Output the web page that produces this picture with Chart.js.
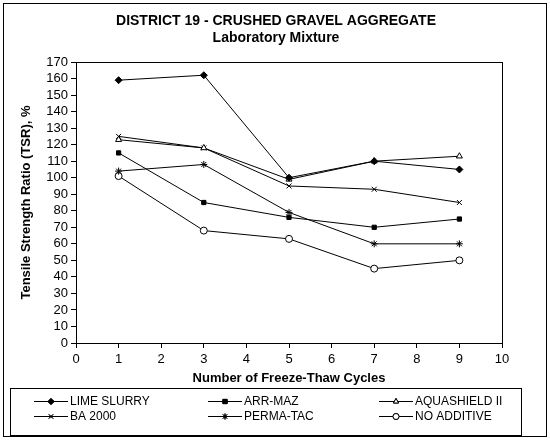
<!DOCTYPE html>
<html>
<head>
    <meta charset="utf-8">
    <title>District 19 - Crushed Gravel Aggregate</title>
    <script src="https://cdn.jsdelivr.net/npm/chart.js"></script>
    <style>
        body { margin: 0; background: #fff; }
        .box { width: 550px; height: 440px; }
    </style>
</head>
<body>
    <div class="box">
        <canvas id="tsrChart" width="550" height="440"></canvas>
    </div>
    <script>
        // freeze-thaw cycles and TSR (%) per additive
        const cycles = [1, 3, 5, 7, 9];
        const limeSlurry = [159, 162, 100, 110, 105];
        const arrMaz = [115, 85, 76, 70, 75];
        const aquashield = [123, 118, 99, 110, 113];
        const ba2000 = [125, 118, 95, 93, 85];
        const permaTac = [104, 108, 79, 60, 60];
        const noAdditive = [101, 68, 63, 45, 50];
        const titleLines = ['DISTRICT 19 - CRUSHED GRAVEL AGGREGATE', 'Laboratory Mixture'];

        const toPoints = vals => vals.map((v, i) => ({ x: cycles[i], y: v }));
        const font = 'Liberation Sans, Arial, sans-serif';

        function series(label, vals, style, filled) {
            return {
                label: label,
                data: toPoints(vals),
                borderColor: '#000',
                borderWidth: 1,
                pointStyle: style,
                pointRadius: style === 'rect' ? 3 : 3.5,
                pointBorderColor: '#000',
                pointBorderWidth: 1,
                pointBackgroundColor: filled ? '#000' : '#fff',
                tension: 0
            };
        }

        const datasets = [
            series('LIME SLURRY', limeSlurry, 'rectRot', true),
            series('ARR-MAZ', arrMaz, 'rect', true),
            series('AQUASHIELD II', aquashield, 'triangle', false),
            series('BA 2000', ba2000, 'crossRot', false),
            series('PERMA-TAC', permaTac, 'star', false),
            series('NO ADDITIVE', noAdditive, 'circle', false)
        ];

        // title, top/right plot frame, outer border and the boxed legend
        const framePlugin = {
            id: 'frame',
            beforeDatasetsDraw(chart) {
                const { ctx, chartArea: a } = chart;
                ctx.save();
                ctx.strokeStyle = '#000';
                ctx.lineWidth = 1;
                ctx.strokeRect(Math.round(a.left) + 0.5, Math.round(a.top) + 0.5,
                    Math.round(a.right - a.left), Math.round(a.bottom - a.top));
                ctx.restore();
            },
            afterDraw(chart) {
                const ctx = chart.ctx;
                ctx.save();
                ctx.strokeStyle = '#000';
                ctx.fillStyle = '#000';
                ctx.lineWidth = 1;
                ctx.strokeRect(3.5, 3.5, 543, 433);
                ctx.strokeRect(10.5, 388.5, 511, 47);

                ctx.font = 'bold 14px ' + font;
                ctx.textAlign = 'center';
                ctx.textBaseline = 'middle';
                ctx.fillText(titleLines[0], 276, 21);
                ctx.fillText(titleLines[1], 276, 38);

                const colX = [34, 208, 379];
                const rowY = [401, 416];
                ctx.font = '12px ' + font;
                ctx.textAlign = 'left';
                chart.data.datasets.forEach((ds, i) => {
                    const x = colX[i % 3];
                    const y = rowY[Math.floor(i / 3)];
                    ctx.beginPath();
                    ctx.moveTo(x, y + 0.5);
                    ctx.lineTo(x + 34, y + 0.5);
                    ctx.stroke();
                    Chart.helpers.drawPoint(ctx, {
                        pointStyle: ds.pointStyle,
                        radius: 3,
                        borderWidth: 1
                    }, x + 17, y + 0.5);
                    ctx.fillStyle = ds.pointBackgroundColor;
                    ctx.fill();
                    ctx.stroke();
                    ctx.fillStyle = '#000';
                    ctx.fillText(ds.label, x + 36, y + 1);
                });
                ctx.restore();
            }
        };

        new Chart(document.getElementById('tsrChart'), {
            type: 'line',
            data: { datasets: datasets },
            options: {
                responsive: false,
                animation: false,
                layout: { padding: { top: 62, left: 10, right: 48, bottom: 54 } },
                plugins: {
                    legend: { display: false },
                    tooltip: { enabled: false },
                    title: { display: false }
                },
                scales: {
                    x: {
                        type: 'linear',
                        min: 0,
                        max: 10,
                        afterFit: s => { s.height = 43; },
                        ticks: { stepSize: 1, color: '#000', padding: 4, font: { family: font, size: 13 } },
                        grid: { drawOnChartArea: false, tickLength: 5, tickColor: '#000' },
                        border: { color: '#000', width: 1 },
                        title: {
                            display: true,
                            text: 'Number of Freeze-Thaw Cycles',
                            color: '#000',
                            font: { family: font, size: 13, weight: 'bold' },
                            padding: { top: 2, bottom: 0 }
                        }
                    },
                    y: {
                        min: 0,
                        max: 170,
                        afterFit: s => { s.width = 66; },
                        ticks: { stepSize: 10, autoSkip: false, color: '#000', padding: 3, font: { family: font, size: 13 } },
                        grid: { drawOnChartArea: false, tickLength: 5, tickColor: '#000' },
                        border: { color: '#000', width: 1 },
                        title: {
                            display: true,
                            text: 'Tensile Strength Ratio (TSR), %',
                            color: '#000',
                            font: { family: font, size: 13, weight: 'bold' },
                            padding: { top: 9, bottom: 0 }
                        }
                    }
                }
            },
            plugins: [framePlugin]
        });
    </script>
</body>
</html>
